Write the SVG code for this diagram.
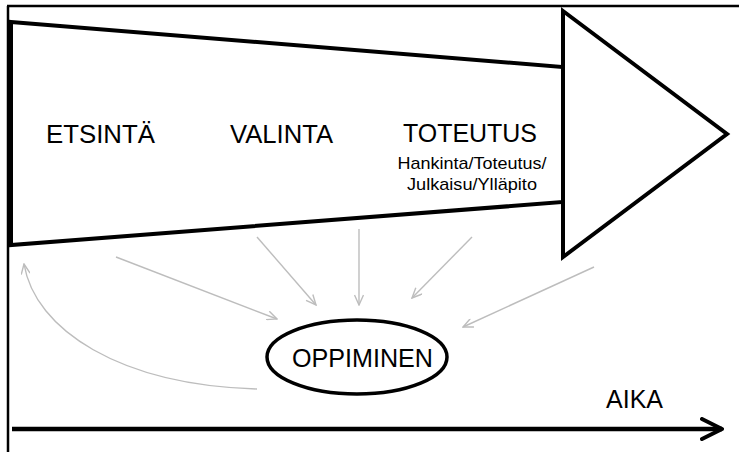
<svg xmlns="http://www.w3.org/2000/svg" width="739" height="452" viewBox="0 0 739 452">
  <style>
    .frame { stroke: #000; stroke-width: 2.5; fill: none; }
    .shape { stroke: #000; stroke-width: 4; fill: #fff; stroke-linejoin: miter; }
    .flow { stroke: #bdbdbd; stroke-width: 1.4; fill: none; marker-end: url(#open); }
    .label { font-family: "Liberation Sans", Arial, sans-serif; fill: #000; }
    .big { font-size: 25px; }
    .small { font-size: 17px; }
  </style>
  <defs>
    <marker id="open" viewBox="0 0 12 10" refX="11" refY="5" markerWidth="12" markerHeight="10" markerUnits="userSpaceOnUse" orient="auto">
      <path d="M1,0.5 L11,5 L1,9.5" fill="none" stroke="#bdbdbd" stroke-width="1.4"/>
    </marker>
    <marker id="time" viewBox="0 0 24 24" refX="22" refY="12" markerWidth="24" markerHeight="24" markerUnits="userSpaceOnUse" orient="auto">
      <path d="M2,2 L22,12 L2,22" fill="none" stroke="#000" stroke-width="4" stroke-linecap="round" stroke-linejoin="round"/>
    </marker>
  </defs>

  <!-- page frame -->
  <path class="frame" d="M7,6 H739 M8,6 V452"/>

  <!-- process arrow: tapering body and head -->
  <g id="process">
    <polygon class="shape" points="11,22 563,67 563,202 11,245"/>
    <polygon class="shape" points="563,11 727,134 563,257"/>
  </g>

  <g id="etsinta">
    <text class="label big" x="46" y="143" textLength="109" lengthAdjust="spacingAndGlyphs">ETSINTÄ</text>
  </g>
  <g id="valinta">
    <text class="label big" x="230" y="143" textLength="103" lengthAdjust="spacingAndGlyphs">VALINTA</text>
  </g>
  <g id="toteutus">
    <text class="label big" x="403" y="142" textLength="134" lengthAdjust="spacingAndGlyphs">TOTEUTUS</text>
    <text class="label small" x="472" y="169" text-anchor="middle" textLength="149" lengthAdjust="spacingAndGlyphs">Hankinta/Toteutus/</text>
    <text class="label small" x="472" y="190" text-anchor="middle" textLength="130" lengthAdjust="spacingAndGlyphs">Julkaisu/Ylläpito</text>
  </g>

  <g id="oppiminen">
    <ellipse cx="357" cy="357" rx="90" ry="37" fill="#fff" stroke="#000" stroke-width="3.5"/>
    <text class="label big" x="292" y="367" textLength="141" lengthAdjust="spacingAndGlyphs">OPPIMINEN</text>
  </g>

  <g id="aika">
    <text class="label big" x="606" y="408" textLength="57" lengthAdjust="spacingAndGlyphs">AIKA</text>
  </g>

  <!-- connectors -->
  <g id="connectors">
    <line class="flow" x1="116" y1="257" x2="277" y2="319"/>
    <line class="flow" x1="257" y1="237" x2="316" y2="305"/>
    <line class="flow" x1="359" y1="229" x2="359" y2="305"/>
    <line class="flow" x1="472" y1="237" x2="412" y2="298"/>
    <line class="flow" x1="594" y1="267" x2="463" y2="327"/>
    <path class="flow" d="M257,389 C120,385 35,330 24,264"/>
    <line x1="12" y1="429" x2="722" y2="429" stroke="#000" stroke-width="4.5" marker-end="url(#time)"/>
  </g>
</svg>
